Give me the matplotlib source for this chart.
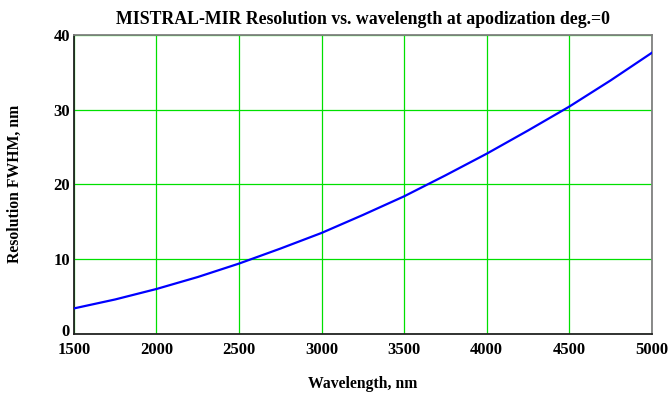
import matplotlib
matplotlib.use("Agg")
import matplotlib.pyplot as plt
import matplotlib.transforms as mtransforms

wavelength = [1500, 1750, 2000, 2250, 2500, 2750, 3000, 3250, 3500, 3750, 4000, 4250, 4500, 4750, 5000]
resolution = [3.4, 4.6, 6.0, 7.6, 9.4, 11.4, 13.5, 15.9, 18.4, 21.2, 24.1, 27.2, 30.4, 33.9, 37.6]
xticks = [1500, 2000, 2500, 3000, 3500, 4000, 4500, 5000]
yticks = [0, 10, 20, 30, 40]

plt.rcParams['font.family'] = ['Liberation Serif', 'DejaVu Serif']
plt.rcParams['font.weight'] = 'bold'

fig = plt.figure(figsize=(6.72, 3.96), dpi=100)
ax = fig.add_axes([0.110, 0.157, 0.860, 0.755])
ax.plot(wavelength, resolution, color='#0000ff', lw=1.6, zorder=3)
ax.set_xlim(1500, 5000)
ax.set_ylim(0, 40)
ax.set_xticks(xticks)
ax.set_yticks(yticks)
ax.grid(True, color='#00e000', lw=0.9)
ax.tick_params(length=0, labelsize=12)
ax.tick_params(axis='x', pad=6)
ax.tick_params(axis='y', pad=3)
for lab in ax.get_xticklabels() + ax.get_yticklabels():
    lab.set_fontweight('bold')
# lift the "0" label slightly so it clears "1500"
zero_lab = ax.get_yticklabels()[0]
zero_lab.set_transform(zero_lab.get_transform() +
                       mtransforms.ScaledTranslation(0, 3 / 72, fig.dpi_scale_trans))
for s in ['left', 'bottom']:
    ax.spines[s].set_color('#222222')
    ax.spines[s].set_linewidth(1.3)
for s in ['top', 'right']:
    ax.spines[s].set_color('#808080')
    ax.spines[s].set_linewidth(1.3)
ax.set_title('MISTRAL-MIR Resolution vs. wavelength at apodization deg.=0',
             fontsize=12.8, fontweight='bold', pad=8)
ax.set_xlabel('Wavelength, nm', fontsize=11.3, fontweight='bold', labelpad=13)
ax.set_ylabel('Resolution FWHM, nm', fontsize=11.3, fontweight='bold', labelpad=22)
fig.savefig('out.png', dpi=100)
